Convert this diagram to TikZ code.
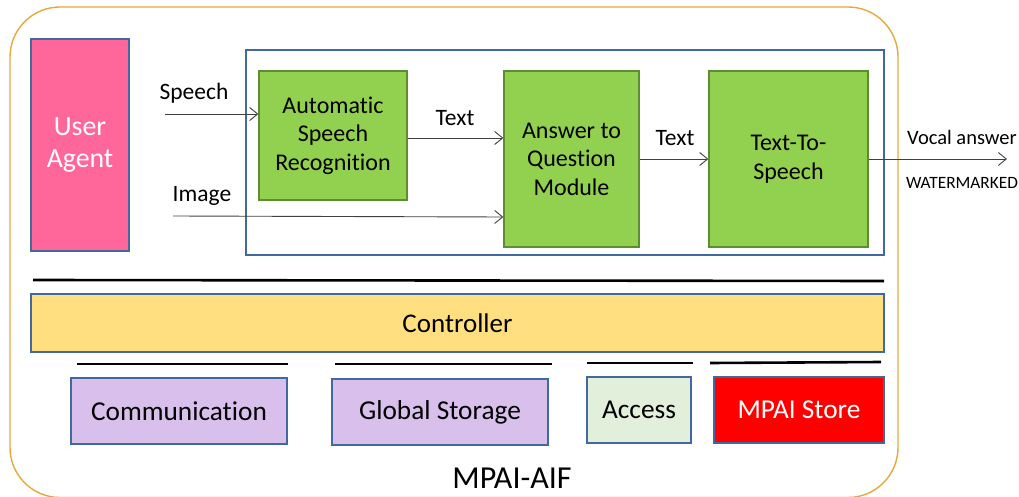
\documentclass[tikz,border=0pt]{standalone}
\usepackage{fontspec}
\setmainfont{Carlito}[Ligatures=CommonOff]
\usetikzlibrary{arrows.meta,positioning}
\definecolor{frameorange}{HTML}{E9A83A}
\definecolor{bordblue}{HTML}{41689F}
\definecolor{uapink}{HTML}{FF6699}
\definecolor{modgreen}{HTML}{92D050}
\definecolor{bordgreen}{HTML}{5E8C31}
\definecolor{ctrlyellow}{HTML}{FFDF7F}
\definecolor{lav}{HTML}{D9BFEB}
\definecolor{accgreen}{HTML}{E2EFDA}
\definecolor{storered}{HTML}{FF0000}
\definecolor{arrgray}{HTML}{404040}
\begin{document}
\begin{tikzpicture}[x=1pt,y=-1pt,
  box/.style={draw=bordblue,line width=1.3pt,inner sep=0pt,align=center,text=black},
  modbox/.style={draw=bordgreen,fill=modgreen,line width=1.3pt,inner sep=0pt,align=center,
    font=\fontsize{24}{28.5}\selectfont},
  flow/.style={draw=arrgray,line width=0.9pt,-{Straight Barb[length=8pt,width=13pt,line width=0.9pt]}},
  lbl/.style={font=\fontsize{23.5}{26}\selectfont,inner sep=0pt},
  bot/.style={box,minimum height=66pt,font=\fontsize{27.3}{32}\selectfont},
  sep/.style={line width=2.6pt,black}]
\useasboundingbox (0,0) rectangle (1019,497);
% outer frame
\draw[frameorange,line width=1.4pt,rounded corners=50pt] (10,7) rectangle (898,497.5);
% user agent
\node[box,fill=uapink,minimum width=98pt,minimum height=212pt,text=white,
  font=\fontsize{27.8}{32}\selectfont] (ua) at (80,145) {User\\Agent};
% container
\node[box,minimum width=638pt,minimum height=205pt] (cont) at (565,152.5) {};
% modules
\node[modbox,minimum width=148pt,minimum height=129pt] (asr) at (333,135.5) {Automatic\\Speech\\Recognition};
\node[modbox,minimum width=135pt,minimum height=176pt] (aqm) at (571.5,159) {Answer to\\Question\\Module};
\node[modbox,minimum width=159pt,minimum height=176pt] (tts) at (788.5,159) {Text-To-\\Speech};
% free ends
\coordinate (sp0) at (165,114);
\coordinate (im0) at (173,216);
\coordinate (vo1) at (1007,159);
\draw[flow] (sp0) -- (sp0 -| asr.west);
\draw[flow] (im0) -- (aqm.west |- 0,217);
\draw[flow] (asr.east |- 0,138) -- (aqm.west |- 0,138);
\draw[flow] (aqm.east) -- (tts.west);
\draw[flow] (tts.east) -- (vo1);
% labels
\node[lbl] (lsp) at (194,93) {Speech};
\node[lbl] (lim) at (202,196) {Image};
\node[lbl] (lt1) at (455,118) {Text};
\node[lbl] (lt2) at (675,138) {Text};
\node[inner sep=0pt,font=\fontsize{20.5}{24}\selectfont] (lvo) at (962,137) {Vocal answer};
\node[inner sep=0pt,font=\fontsize{17.3}{20}\selectfont] (lwm) at (962,183) {WATERMARKED};
% controller
\draw[sep] (33,280) -- (884,281);
\node[box,fill=ctrlyellow,minimum width=853pt,minimum height=58pt,
  font=\fontsize{27}{30}\selectfont] (ctrl) at (457.5,323) {Controller};
% short lines
\draw[sep] (77,364) -- (288,364);
\draw[sep] (335,364) -- (552,364);
\draw[sep] (587,363) -- (693,363);
\draw[sep] (710,363) -- (881,362);
% bottom boxes
\node[bot,fill=lav,minimum width=216pt] (comm) at (179,411) {Communication};
\node[bot,fill=lav,minimum width=216pt] (gs) at (440,412) {Global Storage};
\node[bot,fill=accgreen,minimum width=104pt] (acc) at (639,410) {Access};
\node[bot,fill=storered,minimum width=170pt,text=white] (store) at (799,410) {MPAI Store};
\node[inner sep=0pt,font=\fontsize{32}{36}\selectfont] (aif) at (512,478) {MPAI-AIF};
\end{tikzpicture}
\end{document}
